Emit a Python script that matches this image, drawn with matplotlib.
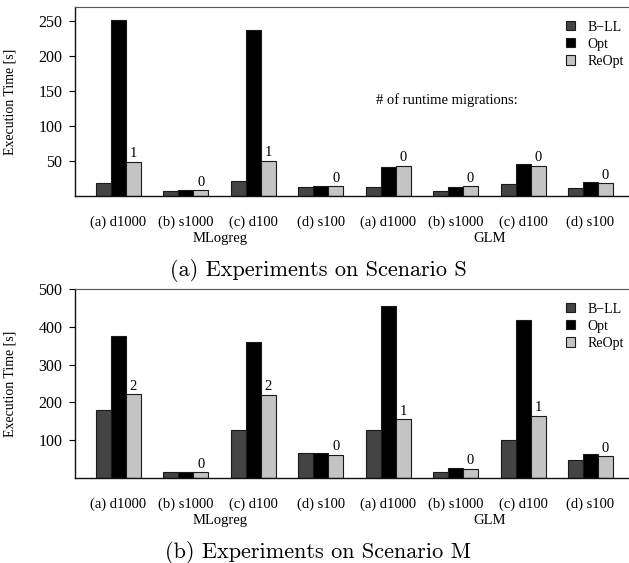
import matplotlib
matplotlib.use("Agg")
import matplotlib.pyplot as plt
import numpy as np

# x categories (same for both panels)
configs = ["(a) d1000", "(b) s1000", "(c) d100", "(d) s100",
           "(a) d1000", "(b) s1000", "(c) d100", "(d) s100"]
algos = ["MLogreg", "GLM"]
series = ["B\u2212LL", "Opt", "ReOpt"]

# Scenario S
s_bll = [19, 7, 21, 13, 13, 7, 17, 11]
s_opt = [252, 8, 237, 14, 42, 13, 45, 20]
s_reopt = [49, 8, 50, 14, 43, 14, 43, 18]
s_migr = [1, 0, 1, 0, 0, 0, 0, 0]

# Scenario M
m_bll = [180, 15, 127, 66, 128, 15, 100, 48]
m_opt = [376, 15, 360, 66, 455, 26, 418, 64]
m_reopt = [222, 15, 220, 61, 155, 24, 164, 58]
m_migr = [2, 0, 2, 0, 1, 0, 1, 0]

colors = ["#444444", "#000000", "#c4c4c4"]
serif = "Liberation Serif"

fig = plt.figure(figsize=(6.29, 5.63), dpi=100)


def draw_panel(ax, data, migr, ylim, yticks, caption_y, caption, note=False):
    x = np.arange(len(configs))
    w = 2 / 9
    for i, (vals, c) in enumerate(zip(data, colors)):
        ax.bar(x + (i - 1) * w, vals, w, color=c, edgecolor="#1a1a1a",
               linewidth=0.8, label=series[i], zorder=2)
    # migration counts above the ReOpt bars
    for xi, v, n in zip(x, data[2], migr):
        ax.text(xi + w, v + ylim[1] * 0.008, str(n), ha="center", va="bottom",
                fontsize=10.5, family=serif)

    ax.set_xlim(-0.645, 7.645)
    ax.set_ylim(*ylim)
    ax.set_yticks(yticks)
    ax.set_yticklabels([str(t) for t in yticks], fontsize=11.5, family=serif)
    ax.set_xticks(x)
    ax.set_xticklabels(configs, fontsize=10.5, family=serif)
    ax.tick_params(axis="x", length=0, pad=14)
    ax.tick_params(axis="y", length=4, width=0.8, pad=5, direction="out")

    ax.set_ylabel("Execution Time [s]", fontsize=10, family=serif)
    ax.yaxis.set_label_coords(-0.104, 0.5)

    for s in ["left", "bottom"]:
        ax.spines[s].set_color("#111111")
        ax.spines[s].set_linewidth(1.0)
    ax.spines["top"].set_color("#555555")
    ax.spines["right"].set_visible(False)

    # algorithm name under each block of four groups
    for k, name in enumerate(algos):
        ax.text(1.5 + 4 * k, -0.225, name, ha="center", va="center",
                fontsize=10.5, family=serif,
                transform=ax.get_xaxis_transform())

    ax.legend(loc="upper left", bbox_to_anchor=(0.866, 0.965),
              frameon=False, borderpad=0,
              handlelength=0.65, handleheight=0.65, handletextpad=0.9,
              labelspacing=0.3, prop={"family": serif, "size": 10})

    if note:
        ax.text(0.665, 0.508, "# of runtime migrations:", ha="center",
                va="center", fontsize=10.5, family=serif, transform=ax.transAxes)

    fig.text(0.506, caption_y, caption, ha="center", va="center",
             fontsize=16, family="cmr10")


ax1 = fig.add_axes([0.1192, 0.6519, 0.8887, 0.3357])
draw_panel(ax1, [s_bll, s_opt, s_reopt], s_migr, (0, 270),
           [50, 100, 150, 200, 250], 0.5204,
           "(a) Experiments on Scenario S", note=True)

ax2 = fig.add_axes([0.1192, 0.151, 0.8887, 0.3357])
draw_panel(ax2, [m_bll, m_opt, m_reopt], m_migr, (0, 500),
           [100, 200, 300, 400, 500], 0.0195,
           "(b) Experiments on Scenario M")

fig.savefig("out.png", dpi=100)
